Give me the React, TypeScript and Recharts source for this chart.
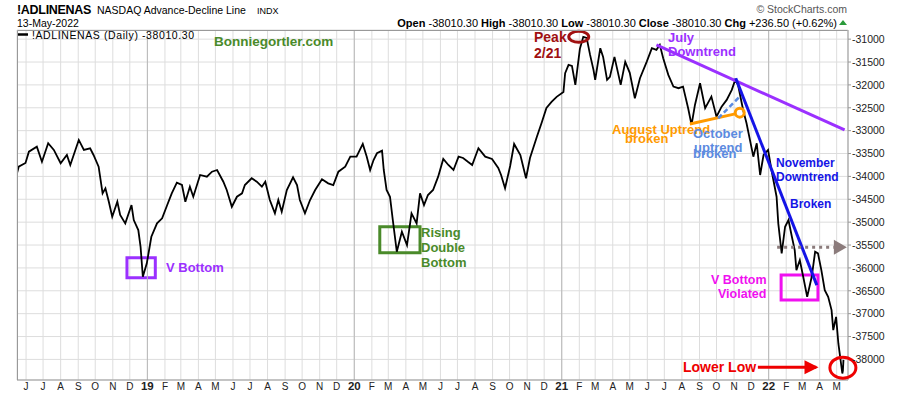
import {
  LineChart,
  Line,
  XAxis,
  YAxis,
  CartesianGrid,
  ReferenceLine,
  ReferenceArea,
  ReferenceDot,
} from "recharts";

// NASDAQ advance-decline line
const dates2018 = [
  "2018-05-16", "2018-05-19", "2018-05-31", "2018-06-06", "2018-06-20", "2018-06-29", "2018-07-10",
  "2018-07-20", "2018-08-01", "2018-08-12", "2018-08-18", "2018-09-02", "2018-09-11", "2018-09-22",
  "2018-09-28", "2018-10-07", "2018-10-14", "2018-10-19", "2018-10-25", "2018-10-31", "2018-11-09",
  "2018-11-14", "2018-11-23", "2018-12-04", "2018-12-08", "2018-12-16", "2018-12-20", "2018-12-24",
  "2018-12-31",
];
const values2018 = [
  -33932, -33788, -33707, -33459, -33350, -33678, -33276, -33422, -33713, -33532, -33750, -33203,
  -33422, -33385, -33532, -33788, -34370, -34260, -34553, -34882, -34553, -34844, -35026, -34626,
  -34954, -35173, -35538, -36194, -35901,
];

const dates2019 = [
  "2019-01-08", "2019-01-18", "2019-01-27", "2019-02-05", "2019-02-13", "2019-02-22", "2019-03-03",
  "2019-03-09", "2019-03-17", "2019-03-23", "2019-04-04", "2019-04-16", "2019-04-25", "2019-05-04",
  "2019-05-15", "2019-05-21", "2019-05-30", "2019-06-08", "2019-06-17", "2019-06-22", "2019-07-04",
  "2019-07-13", "2019-07-22", "2019-07-28", "2019-08-05", "2019-08-14", "2019-08-20", "2019-08-26",
  "2019-09-04", "2019-09-15", "2019-09-22", "2019-09-27", "2019-10-06", "2019-10-15", "2019-10-24",
  "2019-11-05", "2019-11-16", "2019-11-25", "2019-12-04", "2019-12-16", "2019-12-25",
];
const values2019 = [
  -35319, -35026, -34917, -34626, -34370, -34138, -34188, -34553, -34225, -34444, -33969, -34006,
  -33897, -33860, -34116, -34297, -34663, -34444, -34370, -34188, -34041, -34116, -34225, -34116,
  -34516, -34807, -34516, -34772, -34297, -34019, -34188, -34516, -34807, -34516, -34297, -34063,
  -34151, -34188, -33897, -33788, -33569,
];

const dates2020 = [
  "2020-01-05", "2020-01-16", "2020-01-23", "2020-01-29", "2020-02-04", "2020-02-10", "2020-02-19",
  "2020-02-22", "2020-02-27", "2020-03-04", "2020-03-09", "2020-03-16", "2020-03-25", "2020-04-03",
  "2020-04-11", "2020-04-20", "2020-04-26", "2020-05-03", "2020-05-10", "2020-05-19", "2020-05-28",
  "2020-06-06", "2020-06-15", "2020-06-24", "2020-07-03", "2020-07-11", "2020-07-20", "2020-07-27",
  "2020-08-07", "2020-08-19", "2020-08-31", "2020-09-11", "2020-09-16", "2020-09-23", "2020-10-02",
  "2020-10-09", "2020-10-20", "2020-10-30", "2020-11-06", "2020-11-18", "2020-11-27", "2020-12-05",
  "2020-12-14", "2020-12-23",
];
const values2020 = [
  -33569, -33291, -33569, -33860, -33641, -33494, -33437, -33860, -34297, -34444, -34954, -35647,
  -35210, -35501, -34807, -35026, -34370, -34626, -34407, -34297, -34006, -33619, -33750, -33860,
  -33569, -33597, -33685, -33750, -33385, -33569, -33619, -33816, -33969, -34260, -33772, -33291,
  -33532, -34041, -33597, -33138, -32809, -32503, -32372, -32262,
];

const dates2021 = [
  "2021-01-04", "2021-01-07", "2021-01-13", "2021-01-19", "2021-01-25", "2021-02-02", "2021-02-08",
  "2021-02-14", "2021-02-20", "2021-02-26", "2021-03-01", "2021-03-10", "2021-03-15", "2021-03-22",
  "2021-03-27", "2021-04-04", "2021-04-15", "2021-04-23", "2021-05-01", "2021-05-10", "2021-05-19",
  "2021-05-31", "2021-06-09", "2021-06-17", "2021-06-23", "2021-06-29", "2021-07-08", "2021-07-17",
  "2021-07-26", "2021-08-03", "2021-08-12", "2021-08-18", "2021-08-24", "2021-09-02", "2021-09-11",
  "2021-09-22", "2021-10-01", "2021-10-10", "2021-10-19", "2021-10-28", "2021-11-03", "2021-11-08",
  "2021-11-17", "2021-11-23", "2021-11-29", "2021-12-05", "2021-12-11", "2021-12-17", "2021-12-23",
  "2021-12-31",
];
const values2021 = [
  -32153, -31744, -31562, -31584, -32000, -31212, -30950, -30972, -31344, -31672, -31890, -31197,
  -31387, -31890, -31825, -31387, -32000, -31497, -31737, -32291, -31853, -31490, -31197, -31234,
  -31125, -31416, -31781, -32037, -32072, -32037, -32510, -32875, -32438, -31963, -32510, -32256,
  -32694, -32475, -32328, -32109, -31890, -32000, -32547, -32838, -33203, -33569, -33276, -33969,
  -33532, -33422,
];

const dates2022 = [
  "2022-01-06", "2022-01-15", "2022-01-18", "2022-01-24", "2022-01-30", "2022-02-05", "2022-02-11",
  "2022-02-16", "2022-02-19", "2022-02-25", "2022-03-03", "2022-03-10", "2022-03-18", "2022-03-24",
  "2022-03-29", "2022-04-04", "2022-04-10", "2022-04-16", "2022-04-22", "2022-04-25", "2022-04-30",
  "2022-05-04", "2022-05-11", "2022-05-12", "2022-05-13",
];
const values2022 = [
  -33860, -34444, -35026, -35682, -35100, -34954, -35319, -35610, -36048, -35829, -36194, -36632,
  -36194, -35647, -35682, -36048, -36485, -36632, -36923, -37361, -37070, -37652, -38308, -38247,
  -38010.3,
];

const monthLetters = ["J", "F", "M", "A", "M", "J", "J", "A", "S", "O", "N", "D"];
const yTicks = [-31000, -31500, -32000, -32500, -33000, -33500, -34000, -34500, -35000, -35500, -36000, -36500, -37000, -37500, -38000];
const yearStarts = ["2019-01-01", "2020-01-01", "2021-01-01", "2022-01-01"];

const dates = [...dates2018, ...dates2019, ...dates2020, ...dates2021, ...dates2022];
const values = [...values2018, ...values2019, ...values2020, ...values2021, ...values2022];
const rows = dates.map((d, i) => ({ t: Date.parse(d), v: values[i] }));

const T = (d: string) => Date.parse(d);

const monthTicks: number[] = [];
for (let y = 2018; y <= 2022; y++) {
  for (let m = 0; m < 12; m++) {
    const t = Date.UTC(y, m, 1);
    if (t >= T("2018-06-01") && t <= T("2022-05-01")) monthTicks.push(t);
  }
}

const FONT = "'Liberation Sans', Arial, sans-serif";
const PURPLE = "#9b30ff";
const GREEN = "#4a8a2a";
const DARKRED = "#a01010";
const ORANGE = "#ff9a00";
const CORNFLOWER = "#5b8ae0";
const BLUE = "#1414e6";
const MAGENTA = "#f010f0";
const RED = "#ee0000";

function MonthTick({ x, y, payload }: any) {
  const d = new Date(payload.value);
  const m = d.getUTCMonth();
  const isYear = m === 0;
  const label = isYear ? String(d.getUTCFullYear()).slice(2) : monthLetters[m];
  return (
    <text
      x={x}
      y={y + 10}
      textAnchor="middle"
      fontSize={isYear ? 11.5 : 10}
      fontWeight={isYear ? 700 : 400}
      fill="#222"
      fontFamily={FONT}
    >
      {label}
    </text>
  );
}

const ellipse = (rx: number, ry: number, color: string) => (p: any) => (
  <ellipse cx={p.cx} cy={p.cy} rx={rx} ry={ry} fill="none" stroke={color} strokeWidth={3} />
);

const arrowHead = (len: number, half: number, color: string) => (p: any) => (
  <polygon
    points={`${p.cx - len},${p.cy - half} ${p.cx},${p.cy} ${p.cx - len},${p.cy + half}`}
    fill={color}
  />
);

function Note({ x, y, size, color, children }: any) {
  return (
    <text x={x} y={y + size * 0.36} fontSize={size} fontWeight={700} fill={color} fontFamily={FONT}>
      {children}
    </text>
  );
}

export default function App() {
  return (
    <div style={{ position: "absolute", left: 0, top: 0, width: 900, height: 396, background: "#fff" }}>
      <LineChart
        width={900}
        height={396}
        data={rows}
        margin={{ top: 30, right: 2, bottom: 0, left: 17 }}
      >
        <CartesianGrid stroke="#dddddd" strokeWidth={1} />
        <XAxis
          dataKey="t"
          type="number"
          scale="time"
          domain={[T("2018-05-16"), T("2022-05-21")]}
          ticks={monthTicks}
          interval={0}
          tick={<MonthTick />}
          tickLine={false}
          tickSize={0}
          tickMargin={0}
          height={16}
          axisLine={{ stroke: "#999" }}
          allowDataOverflow
        />
        <YAxis
          orientation="right"
          domain={[-38450, -30800]}
          ticks={yTicks}
          interval={0}
          width={50}
          tickSize={3}
          tickMargin={1}
          axisLine={{ stroke: "#999" }}
          tickLine={{ stroke: "#999" }}
          tick={{ fontSize: 10.5, fill: "#222", fontFamily: FONT }}
          allowDataOverflow
        />
        {yearStarts.map((d) => (
          <ReferenceLine key={d} x={T(d)} stroke="#b8b8b8" strokeWidth={1} />
        ))}
        <Line
          type="linear"
          dataKey="v"
          stroke="#000"
          strokeWidth={1.8}
          dot={false}
          isAnimationActive={false}
        />
        {/* annotations */}
        <ReferenceArea x1={T("2018-11-26")} x2={T("2019-01-15")} y1={-35779} y2={-36216} fill="none" stroke={PURPLE} strokeWidth={3} />
        <ReferenceArea x1={T("2020-02-15")} x2={T("2020-04-26")} y1={-35100} y2={-35670} fill="none" stroke={GREEN} strokeWidth={3} />
        <ReferenceArea x1={T("2022-01-23")} x2={T("2022-03-29")} y1={-36157} y2={-36704} fill="none" stroke={MAGENTA} strokeWidth={3} />
        <ReferenceLine
          segment={[{ x: T("2021-06-17"), y: -31125 }, { x: T("2022-05-15"), y: -32985 }]}
          stroke={PURPLE}
          strokeWidth={3}
        />
        <ReferenceLine
          segment={[{ x: T("2021-11-04"), y: -31853 }, { x: T("2022-03-27"), y: -36376 }]}
          stroke={BLUE}
          strokeWidth={3}
        />
        <ReferenceLine
          segment={[{ x: T("2021-08-15"), y: -32853 }, { x: T("2021-11-03"), y: -32634 }]}
          stroke={ORANGE}
          strokeWidth={3}
        />
        <ReferenceLine
          segment={[{ x: T("2021-10-04"), y: -32729 }, { x: T("2021-11-11"), y: -32256 }]}
          stroke={CORNFLOWER}
          strokeWidth={2.5}
          strokeDasharray="5 3"
        />
        <ReferenceLine
          segment={[{ x: T("2022-01-16"), y: -35551 }, { x: T("2022-04-26"), y: -35551 }]}
          stroke="#8b7b7b"
          strokeWidth={3}
          strokeDasharray="3 4"
        />
        <ReferenceLine
          segment={[{ x: T("2021-12-13"), y: -38170 }, { x: T("2022-03-26"), y: -38170 }]}
          stroke={RED}
          strokeWidth={3}
        />
        <ReferenceDot x={T("2022-05-19")} y={-35551} r={1} ifOverflow="visible" shape={arrowHead(13, 7.5, "#8b7b7b")} />
        <ReferenceDot x={T("2022-03-30")} y={-38170} r={1} ifOverflow="visible" shape={arrowHead(14, 7, RED)} />
        <ReferenceDot x={T("2021-11-11")} y={-32606} r={5} ifOverflow="visible" shape={ellipse(4.5, 4.5, ORANGE)} />
        <ReferenceDot x={T("2021-01-31")} y={-30950} r={5} ifOverflow="visible" shape={ellipse(10, 5.5, DARKRED)} />
        <ReferenceDot x={T("2022-05-12")} y={-38181} r={5} ifOverflow="visible" shape={ellipse(13, 10.5, RED)} />
      </LineChart>

      <svg
        width={900}
        height={396}
        style={{ position: "absolute", left: 0, top: 0, pointerEvents: "none", whiteSpace: "pre" }}
      >
        <line x1={17.5} y1={30.5} x2={847.5} y2={30.5} stroke="#999" />
        <line x1={17.5} y1={30.5} x2={17.5} y2={380} stroke="#999" />

        <text x={17} y={14} fontSize={12.5} fontWeight={700} fill="#000" fontFamily={FONT} letterSpacing={-0.3}>
          !ADLINENAS
        </text>
        <text x={97} y={14} fontSize={10.5} fill="#000" fontFamily={FONT}>
          NASDAQ Advance-Decline Line
        </text>
        <text x={257} y={14} fontSize={9} fill="#000" fontFamily={FONT}>
          INDX
        </text>
        <text x={17} y={26.5} fontSize={10.5} fill="#000" fontFamily={FONT}>
          13-May-2022
        </text>
        <text x={847} y={12.5} textAnchor="end" fontSize={10.5} fill="#555" fontFamily={FONT}>
          © StockCharts.com
        </text>
        <text x={837} y={26.5} textAnchor="end" fontSize={11} fill="#000" fontFamily={FONT}>
          <tspan fontWeight={700}>Open</tspan>
          <tspan> -38010.30   </tspan>
          <tspan fontWeight={700}>High</tspan>
          <tspan> -38010.30   </tspan>
          <tspan fontWeight={700}>Low</tspan>
          <tspan> -38010.30   </tspan>
          <tspan fontWeight={700}>Close</tspan>
          <tspan> -38010.30   </tspan>
          <tspan fontWeight={700}>Chg</tspan>
          <tspan> +236.50 (+0.62%)</tspan>
        </text>
        <polygon points="839,25 843,20 847,25" fill="#2a9a3a" />

        <line x1={18} y1={34.5} x2={28} y2={34.5} stroke="#000" strokeWidth={2.5} />
        <text x={32} y={38.8} fontSize={10.5} fill="#000" fontFamily={FONT} letterSpacing={0.6}>
          !ADLINENAS (Daily) -38010.30
        </text>

        <Note x={214} y={41} size={13.5} color={GREEN}>Bonniegortler.com</Note>
        <Note x={166} y={267} size={13} color={PURPLE}>V Bottom</Note>
        <Note x={421} y={232} size={13} color={GREEN}>Rising</Note>
        <Note x={421} y={247} size={13} color={GREEN}>Double</Note>
        <Note x={421} y={262} size={13} color={GREEN}>Bottom</Note>
        <Note x={534} y={37} size={14} color={DARKRED}>Peak</Note>
        <Note x={534} y={53} size={14} color={DARKRED}>2/21</Note>
        <Note x={668} y={37} size={13} color={PURPLE}>July</Note>
        <Note x={668} y={51} size={13} color={PURPLE}>Downtrend</Note>
        <Note x={612} y={129.5} size={13} color={ORANGE}>August Uptrend</Note>
        <Note x={625} y={138.5} size={13} color={ORANGE}>broken</Note>
        <Note x={693} y={133} size={13} color={CORNFLOWER}>October</Note>
        <Note x={694} y={147} size={13} color={CORNFLOWER}>uptrend</Note>
        <Note x={693} y={153} size={13} color={CORNFLOWER}>broken</Note>
        <Note x={776} y={162.5} size={12} color={BLUE}>November</Note>
        <Note x={776} y={176.5} size={12} color={BLUE}>Downtrend</Note>
        <Note x={790} y={203.5} size={12} color={BLUE}>Broken</Note>
        <Note x={711} y={279} size={12.5} color={MAGENTA}>V Bottom</Note>
        <Note x={718} y={293} size={12.5} color={MAGENTA}>Violated</Note>
        <Note x={683} y={367} size={14} color={RED}>Lower Low</Note>
      </svg>
    </div>
  );
}
